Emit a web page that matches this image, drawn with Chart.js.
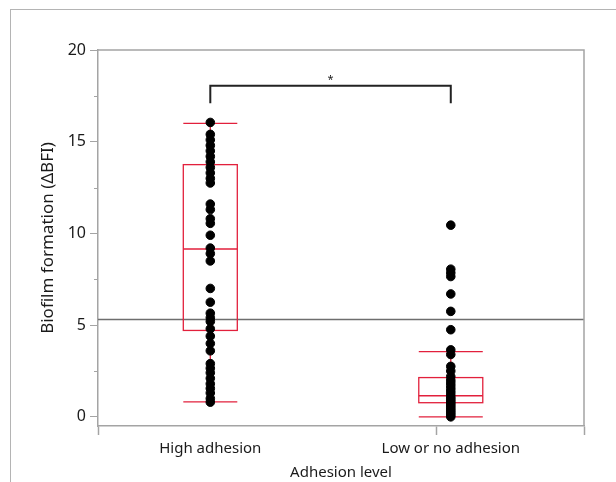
<!DOCTYPE html>
<html>
<head>
<meta charset="utf-8">
<script src="https://cdn.jsdelivr.net/npm/chart.js@4/dist/chart.umd.min.js"></script>
<style>
  html, body { margin: 0; padding: 0; background: #fff; }
  #wrap { position: relative; width: 616px; height: 482px; }
  #frame { position: absolute; left: 10px; top: 9px; right: 0; bottom: 0;
           border-top: 1px solid #b4b4b4; border-left: 1px solid #b4b4b4; pointer-events: none; }
  canvas { position: absolute; left: 0; top: 0; }
</style>
</head>
<body>
<div id="wrap">
  <canvas id="chart" width="616" height="482"></canvas>
  <div id="frame"></div>
</div>
<script>
// Biofilm formation by adhesion level — box plot with points

const categories = ['High adhesion', 'Low or no adhesion'];
const categoryPos = [1, 2];

const highValues = [16.05, 15.4, 15.1, 14.8, 14.5, 14.2, 13.9, 13.6, 13.3, 13.0, 12.75,
  11.6, 11.3, 10.8, 10.55, 9.9, 9.2, 8.9, 8.5, 7.0, 6.25, 5.65, 5.4, 5.2, 4.8, 4.4,
  4.0, 3.6, 2.9, 2.65, 2.4, 2.1, 1.8, 1.55, 1.3, 1.0, 0.8];
const lowValues = [10.45, 8.05, 7.85, 7.65, 6.7, 5.75, 4.75, 3.65, 3.4, 2.75, 2.5, 2.2,
  2.0, 1.85, 1.7, 1.55, 1.4, 1.25, 1.1, 1.0, 0.9, 0.8, 0.7, 0.6, 0.5, 0.4, 0.3, 0.2, 0.1, 0.0];

// box stats per category: [whiskerLow, q1, median, q3, whiskerHigh]
const boxHigh = [0.82, 4.71, 9.15, 13.75, 16.0];
const boxLow = [0.0, 0.77, 1.15, 2.14, 3.56];

const refLine = 5.3;
const sigBracket = [1, 2, 18.05, 17.1]; // x from, x to, top y, leg bottom y
const sigLabel = '*';

const yMajorTicks = [0, 5, 10, 15, 20];
const yMinorTicks = [2.5, 7.5, 12.5, 17.5];
const xDividers = [0.533, 1.94, 2.554];

const RED = '#e2203c';
const AXIS = '#a4a4a4';
const TEXT = '#1a1a1a';
const FONT = "'Noto Sans', 'Open Sans', sans-serif";

function pointsFor(values, x) {
  return values.map(v => ({ x: x, y: v }));
}

const boxPlugin = {
  id: 'boxes',
  beforeDatasetsDraw(chart) {
    const { ctx, chartArea, scales: { x, y } } = chart;
    ctx.save();
    // reference line
    ctx.strokeStyle = '#6e6e6e';
    ctx.lineWidth = 1.5;
    ctx.beginPath();
    ctx.moveTo(chartArea.left, y.getPixelForValue(refLine));
    ctx.lineTo(chartArea.right, y.getPixelForValue(refLine));
    ctx.stroke();

    const halfW = [27, 32];
    [boxHigh, boxLow].forEach((b, i) => {
      const cx = x.getPixelForValue(categoryPos[i]);
      const w = halfW[i];
      ctx.strokeStyle = RED;
      ctx.lineWidth = 1.3;
      ctx.beginPath();
      // whiskers
      ctx.moveTo(cx, y.getPixelForValue(b[0]));
      ctx.lineTo(cx, y.getPixelForValue(b[1]));
      ctx.moveTo(cx, y.getPixelForValue(b[3]));
      ctx.lineTo(cx, y.getPixelForValue(b[4]));
      // caps
      ctx.moveTo(cx - w, y.getPixelForValue(b[0]));
      ctx.lineTo(cx + w, y.getPixelForValue(b[0]));
      ctx.moveTo(cx - w, y.getPixelForValue(b[4]));
      ctx.lineTo(cx + w, y.getPixelForValue(b[4]));
      // median
      ctx.moveTo(cx - w, y.getPixelForValue(b[2]));
      ctx.lineTo(cx + w, y.getPixelForValue(b[2]));
      ctx.stroke();
      const top = y.getPixelForValue(b[3]);
      ctx.strokeRect(cx - w, top, 2 * w, y.getPixelForValue(b[1]) - top);
    });
    ctx.restore();
  },
  afterDraw(chart) {
    const { ctx, chartArea, scales: { x, y } } = chart;
    ctx.save();
    // plot frame top/right
    ctx.strokeStyle = AXIS;
    ctx.lineWidth = 1.5;
    ctx.beginPath();
    ctx.moveTo(chartArea.left, chartArea.top);
    ctx.lineTo(chartArea.right, chartArea.top);
    ctx.lineTo(chartArea.right, chartArea.bottom);
    ctx.stroke();
    // minor y ticks
    ctx.lineWidth = 1;
    ctx.beginPath();
    yMinorTicks.forEach(v => {
      const py = Math.round(y.getPixelForValue(v)) + 0.5;
      ctx.moveTo(chartArea.left - 4, py);
      ctx.lineTo(chartArea.left, py);
    });
    ctx.stroke();
    // significance bracket
    const x1 = x.getPixelForValue(sigBracket[0]);
    const x2 = x.getPixelForValue(sigBracket[1]);
    const yt = y.getPixelForValue(sigBracket[2]);
    const yb = y.getPixelForValue(sigBracket[3]);
    ctx.strokeStyle = '#222';
    ctx.lineWidth = 2;
    ctx.beginPath();
    ctx.moveTo(x1, yb);
    ctx.lineTo(x1, yt);
    ctx.lineTo(x2, yt);
    ctx.lineTo(x2, yb);
    ctx.stroke();
    ctx.fillStyle = '#222';
    ctx.font = '11px ' + FONT;
    ctx.textAlign = 'center';
    ctx.fillText(sigLabel, (x1 + x2) / 2, yt - 3);
    ctx.restore();
  }
};

new Chart(document.getElementById('chart'), {
  type: 'scatter',
  data: {
    datasets: [
      { data: pointsFor(highValues, categoryPos[0]), backgroundColor: '#000', borderColor: '#000', pointRadius: 4.3 },
      { data: pointsFor(lowValues, categoryPos[1]), backgroundColor: '#000', borderColor: '#000', pointRadius: 4.3 }
    ]
  },
  plugins: [boxPlugin],
  options: {
    responsive: false,
    animation: false,
    layout: { padding: { left: 38, right: 32, top: 50, bottom: 0 } },
    plugins: { legend: { display: false }, tooltip: { enabled: false } },
    scales: {
      x: {
        type: 'linear',
        min: xDividers[0],
        max: xDividers[2],
        afterBuildTicks: s => { s.ticks = [xDividers[0], 1, xDividers[1], 2, xDividers[2]].map(v => ({ value: v })); },
        afterFit: s => { s.height = 56; },
        border: { color: AXIS, width: 1.5 },
        grid: {
          drawOnChartArea: false,
          tickLength: 9,
          tickWidth: 1.5,
          tickColor: c => (c.tick && categoryPos.includes(c.tick.value)) ? 'rgba(0,0,0,0)' : AXIS
        },
        ticks: {
          autoSkip: false,
          maxRotation: 0,
          padding: 5,
          color: TEXT,
          font: { family: FONT, size: 15 },
          callback: v => { const i = categoryPos.indexOf(v); return i >= 0 ? categories[i] : ''; }
        },
        title: {
          display: true,
          text: 'Adhesion level',
          color: TEXT,
          font: { family: FONT, size: 15 },
          padding: { top: 2, bottom: 0 }
        }
      },
      y: {
        min: -0.5,
        max: 20,
        afterBuildTicks: s => { s.ticks = yMajorTicks.map(v => ({ value: v })); },
        afterFit: s => { s.width = 60; },
        border: { color: AXIS, width: 1.5 },
        grid: { drawOnChartArea: false, tickLength: 8, tickColor: AXIS },
        ticks: {
          padding: 4,
          color: TEXT,
          font: { family: FONT, size: 16 }
        },
        title: {
          display: true,
          text: 'Biofilm formation (ΔBFI)',
          color: TEXT,
          font: { family: FONT, size: 17 },
          padding: { top: 0, bottom: 0 }
        }
      }
    }
  }
});
</script>
</body>
</html>
